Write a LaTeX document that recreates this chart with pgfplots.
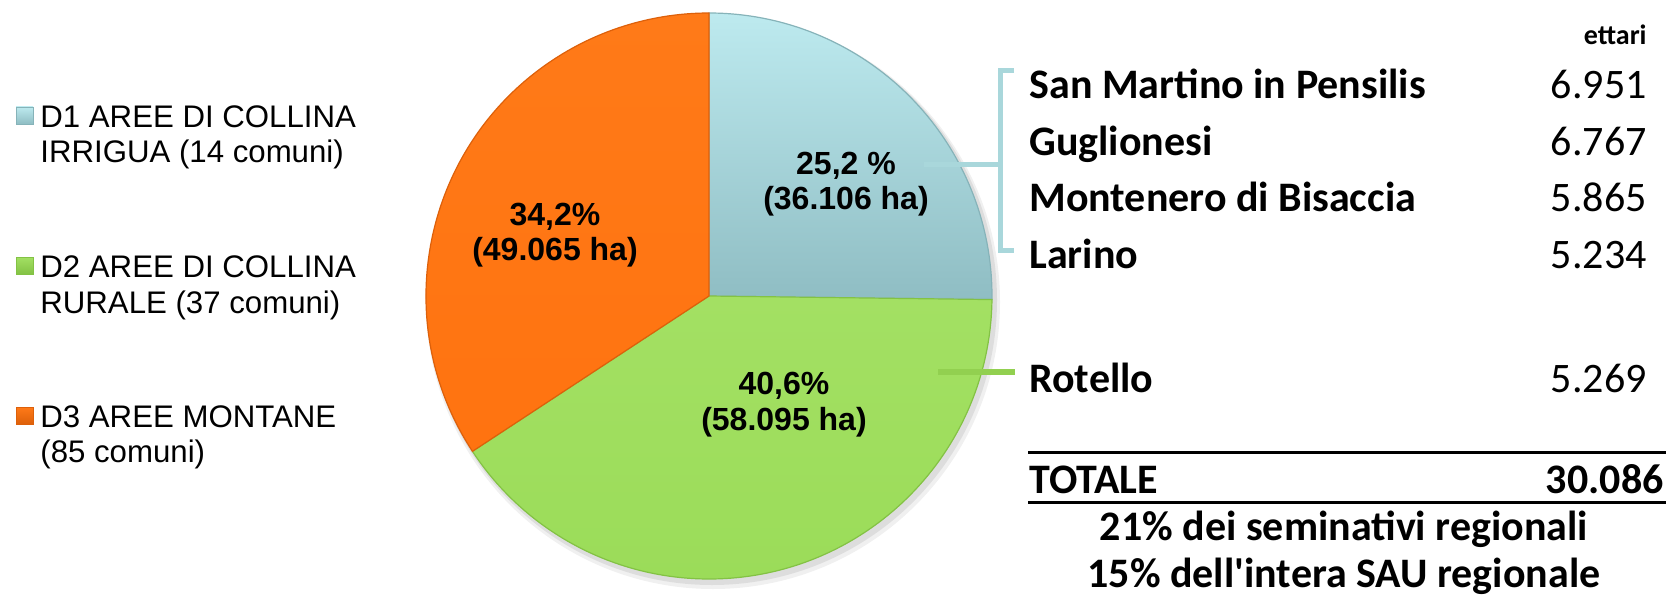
\documentclass[border=0pt]{standalone}
\usepackage{pgfplots}
\usepackage{pgfplotstable}
\pgfplotsset{compat=1.18}
\usepackage{fontspec}
\setmainfont{Liberation Sans}
\newfontfamily\calibri{Carlito}

\definecolor{dAtop}{HTML}{BDEAEF}
\definecolor{dAbot}{HTML}{8FBDC3}
\definecolor{dAedge}{HTML}{86B3B9}
\definecolor{dB}{HTML}{9BDC59}
\definecolor{dBtop}{HTML}{A3E063}
\definecolor{dBedge}{HTML}{83C244}
\definecolor{dC}{HTML}{FF7310}
\definecolor{dCtop}{HTML}{FF7A18}
\definecolor{dCedge}{HTML}{DD600A}
\definecolor{brk}{HTML}{A9D7DB}
\definecolor{gconn}{HTML}{92D050}

\pgfplotstableread{
zona ha
D1 36.106
D2 58.095
D3 49.065
}\piedata

\newcommand\legf{\fontsize{15.6bp}{18bp}\selectfont}
\newcommand\pief{\bfseries\fontsize{16bp}{18bp}\selectfont}
\newcommand\tabb{\calibri\bfseries\fontsize{21bp}{24bp}\selectfont}
\newcommand\tabr{\calibri\fontsize{21bp}{24bp}\selectfont}
\newcommand\ettf{\calibri\bfseries\fontsize{14bp}{16bp}\selectfont}

\begin{document}
\begin{tikzpicture}
\pgfplotstablegetelem{0}{ha}\of\piedata \edef\va{\pgfplotsretval}
\pgfplotstablegetelem{1}{ha}\of\piedata \edef\vb{\pgfplotsretval}
\pgfplotstablegetelem{2}{ha}\of\piedata \edef\vc{\pgfplotsretval}
\pgfmathsetmacro\tot{\va+\vb+\vc}
\pgfmathsetmacro\eA{90-360*(\va/\tot)}
\pgfmathsetmacro\eB{\eA-360*(\vb/\tot)}
\def\eC{-270}
\def\R{141.5bp}
\begin{axis}[name=ax, scale only axis, width=833bp, height=298.5bp,
  xmin=0, xmax=1666, ymin=0, ymax=597, y dir=reverse,
  hide axis, clip=false]
  % shadow
  \fill[black, opacity=0.06] (axis cs:709,296) ++(2bp,-3bp) circle[radius=143.5bp];
  \fill[black, opacity=0.08] (axis cs:709,296) ++(1.5bp,-2bp) circle[radius=142.5bp];
  % slices
  \shade[top color=dAtop, bottom color=dAbot, draw=dAedge, line width=0.6bp]
    (axis cs:709,296) -- ++(90:\R) arc[start angle=90, end angle=\eA, radius=\R] -- cycle;
  \shade[top color=dBtop, bottom color=dB, draw=dBedge, line width=0.6bp]
    (axis cs:709,296) -- ++(\eA:\R) arc[start angle=\eA, end angle=\eB, radius=\R] -- cycle;
  \shade[top color=dCtop, bottom color=dC, draw=dCedge, line width=0.6bp]
    (axis cs:709,296) -- ++(\eB:\R) arc[start angle=\eB, end angle=\eC, radius=\R] -- cycle;
  % slice labels
  \node[anchor=base, inner sep=0, font=\pief] at (axis cs:846,174) {25,2 \%};
  \node[anchor=base, inner sep=0, font=\pief] at (axis cs:846,209) {(36.106 ha)};
  \node[anchor=base, inner sep=0, font=\pief] at (axis cs:555,225) {34,2\%};
  \node[anchor=base, inner sep=0, font=\pief] at (axis cs:555,260) {(49.065 ha)};
  \node[anchor=base, inner sep=0, font=\pief] at (axis cs:784,394) {40,6\%};
  \node[anchor=base, inner sep=0, font=\pief] at (axis cs:784,430) {(58.095 ha)};
  % legend
  \shade[top color=dAtop, bottom color=dAbot, draw=dAedge, line width=0.4bp] (axis cs:16,107) rectangle (axis cs:33,124);
  \shade[top color=dBtop, bottom color=dBedge, draw=dBedge, line width=0.4bp] (axis cs:16,257) rectangle (axis cs:33,274);
  \shade[top color=dCtop, bottom color=dCedge, draw=dCedge, line width=0.4bp] (axis cs:16,407) rectangle (axis cs:33,424);
  \node[anchor=base west, inner sep=0, font=\legf] at (axis cs:40,127) {D1 AREE DI COLLINA};
  \node[anchor=base west, inner sep=0, font=\legf] at (axis cs:40,162) {IRRIGUA (14 comuni)};
  \node[anchor=base west, inner sep=0, font=\legf] at (axis cs:40,277) {D2 AREE DI COLLINA};
  \node[anchor=base west, inner sep=0, font=\legf] at (axis cs:40,313) {RURALE (37 comuni)};
  \node[anchor=base west, inner sep=0, font=\legf] at (axis cs:40,427) {D3 AREE MONTANE};
  \node[anchor=base west, inner sep=0, font=\legf] at (axis cs:40,462) {(85 comuni)};
  % bracket and connectors
  \draw[brk, line width=2.5bp] (axis cs:1014,71) -- (axis cs:1000,71) -- (axis cs:1000,250) -- (axis cs:1014,250);
  \draw[brk, line width=2.5bp] (axis cs:924,164) -- (axis cs:1000,164);
  \draw[gconn, line width=3bp] (axis cs:938,372) -- (axis cs:1015,372);
  % table
  \node[anchor=base east, inner sep=0, font=\ettf] at (axis cs:1647,45) {ettari};
  \node[anchor=base west, inner sep=0, font=\tabb] at (axis cs:1029,98) {San Martino in Pensilis};
  \node[anchor=base east, inner sep=0, font=\tabr] at (axis cs:1647,98) {6.951};
  \node[anchor=base west, inner sep=0, font=\tabb] at (axis cs:1029,155) {Guglionesi};
  \node[anchor=base east, inner sep=0, font=\tabr] at (axis cs:1647,155) {6.767};
  \node[anchor=base west, inner sep=0, font=\tabb] at (axis cs:1029,211) {Montenero di Bisaccia};
  \node[anchor=base east, inner sep=0, font=\tabr] at (axis cs:1647,211) {5.865};
  \node[anchor=base west, inner sep=0, font=\tabb] at (axis cs:1029,268) {Larino};
  \node[anchor=base east, inner sep=0, font=\tabr] at (axis cs:1647,268) {5.234};
  \node[anchor=base west, inner sep=0, font=\tabb] at (axis cs:1029,392) {Rotello};
  \node[anchor=base east, inner sep=0, font=\tabr] at (axis cs:1647,392) {5.269};
  \draw[black, line width=1.5bp] (axis cs:1028,452) -- (axis cs:1666,452);
  \node[anchor=base west, inner sep=0, font=\tabb] at (axis cs:1029,493) {TOTALE};
  \node[anchor=base east, inner sep=0, font=\tabb] at (axis cs:1664,493) {30.086};
  \draw[black, line width=1.5bp] (axis cs:1028,502) -- (axis cs:1666,502);
  \node[anchor=base, inner sep=0, font=\tabb] at (axis cs:1344,540) {21\% dei seminativi regionali};
  \node[anchor=base, inner sep=0, font=\tabb] at (axis cs:1344,587) {15\% dell'intera SAU regionale};
\end{axis}
\pgfresetboundingbox
\useasboundingbox (ax.south west) rectangle (ax.north east);
\end{tikzpicture}
\end{document}
